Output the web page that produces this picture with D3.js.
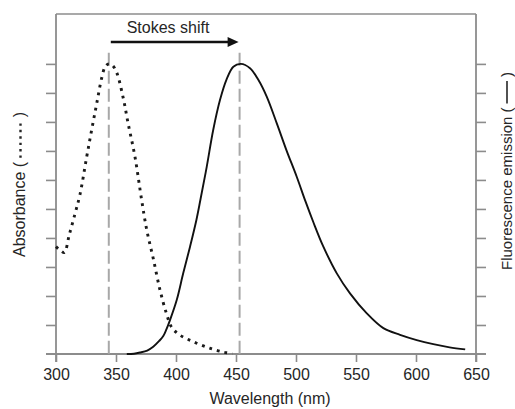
<!DOCTYPE html>
<html>
<head>
<meta charset="utf-8">
<script src="https://cdn.jsdelivr.net/npm/d3@7/dist/d3.min.js"></script>
<style>
  html, body { margin: 0; padding: 0; background: #fff; }
  svg { display: block; }
  text { font-family: "Liberation Sans", Arial, Helvetica, sans-serif; fill: #262626; }
</style>
</head>
<body>
<svg id="chart" width="515" height="409"></svg>
<script>
// ---- data ----
const xTicks = [300, 350, 400, 450, 500, 550, 600, 650];
const yTicks = [1, 2, 3, 4, 5, 6, 7, 8, 9, 10];

// absorbance (dotted): wavelength (nm), relative value
const absWavelength = [300, 304, 307, 311, 316, 320, 325.6, 329.7, 334, 338, 341, 344, 347, 350.6, 356, 360, 365.8, 371.4, 375.6, 381, 386.7, 392, 396.4, 403, 414, 428, 440, 447];
const absValue      = [3.7, 3.56, 3.5, 4.1, 4.86, 5.5, 6.8, 7.72, 8.65, 9.5, 9.9, 10, 9.95, 9.7, 8.83, 7.97, 6.8, 5.3, 4.28, 3.3, 2.2, 1.4, 0.92, 0.66, 0.43, 0.2, 0.06, 0.02];

// fluorescence emission (solid)
const emWavelength = [359, 365, 370, 376, 381, 386, 389.4, 392, 395, 400.6, 406, 411.7, 417, 420.5, 425.6, 431, 436.7, 442, 447.8, 454, 461.7, 468.6, 475.6, 484, 492, 500.6, 508, 514.4, 522.8, 534, 545, 559, 572.8, 586.7, 600.6, 614.4, 628, 641];
const emValue      = [0.0, 0.01, 0.05, 0.12, 0.25, 0.45, 0.62, 0.85, 1.17, 1.86, 2.78, 3.7, 4.62, 5.35, 6.45, 7.72, 8.76, 9.45, 9.9, 10, 9.85, 9.45, 8.87, 7.95, 7.03, 6.11, 5.25, 4.55, 3.7, 2.78, 2.09, 1.4, 0.89, 0.66, 0.48, 0.34, 0.23, 0.16];

const peakAbs = 344;
const peakEm = 453;
const yMax = 11.72;
const peakLineTop = 10.38;

// ---- layout ----
const svg = d3.select("#chart");
const x = d3.scaleLinear().domain([300, 650]).range([56, 476]);
const y = d3.scaleLinear().domain([0, yMax]).range([354, 14]);

const axisColor = "#8c8c8c";
const FS = 16;

// x axis ticks + labels
const xAxis = svg.append("g")
  .attr("transform", `translate(0,${y(0)})`)
  .call(d3.axisBottom(x).tickValues(xTicks).tickSize(8).tickSizeOuter(0).tickPadding(6.5).tickFormat(d3.format("d")));
xAxis.select(".domain").remove();
xAxis.selectAll("line").attr("stroke", axisColor).attr("stroke-width", 1.6);
xAxis.selectAll("text").style("font-size", FS + "px").attr("fill", "#262626");

// y axes ticks (left and right)
const yl = svg.append("g").attr("transform", `translate(${x(300)},0)`)
  .call(d3.axisLeft(y).tickValues(yTicks).tickSize(10).tickFormat(""));
yl.select(".domain").remove();
yl.selectAll("line").attr("stroke", axisColor).attr("stroke-width", 1.6);

const yr = svg.append("g").attr("transform", `translate(${x(650)},0)`)
  .call(d3.axisRight(y).tickValues(yTicks).tickSize(10).tickFormat(""));
yr.select(".domain").remove();
yr.selectAll("line").attr("stroke", axisColor).attr("stroke-width", 1.6);

// frame lines
svg.append("line").attr("x1", x(300) - 10).attr("x2", x(650) + 10).attr("y1", y(0)).attr("y2", y(0))
  .attr("stroke", axisColor).attr("stroke-width", 1.8);
svg.append("line").attr("x1", x(300)).attr("x2", x(650)).attr("y1", y(yMax)).attr("y2", y(yMax))
  .attr("stroke", axisColor).attr("stroke-width", 1.6);
[300, 650].forEach(v => {
  svg.append("line").attr("x1", x(v)).attr("x2", x(v)).attr("y1", y(yMax)).attr("y2", y(0) + 8)
    .attr("stroke", axisColor).attr("stroke-width", 1.8);
});

// dashed peak lines
[peakAbs, peakEm].forEach(v => {
  svg.append("line").attr("x1", x(v)).attr("x2", x(v)).attr("y1", y(peakLineTop)).attr("y2", y(0))
    .attr("stroke", "#a8a8a8").attr("stroke-width", 2).attr("stroke-dasharray", "13,5");
});

// curves
const line = d3.line().x(d => x(d[0])).y(d => y(d[1])).curve(d3.curveCatmullRom.alpha(0.5));
const absData = absWavelength.map((w, i) => [w, absValue[i]]);
const emData = emWavelength.map((w, i) => [w, emValue[i]]);

svg.append("path").datum(absData).attr("d", line)
  .attr("fill", "none").attr("stroke", "#1a1a1a").attr("stroke-width", 2.9)
  .attr("stroke-dasharray", "2.8,5");
svg.append("path").datum(emData).attr("d", line)
  .attr("fill", "none").attr("stroke", "#111").attr("stroke-width", 1.9);

// Stokes shift arrow
const ay = 42;
const ax1 = x(peakAbs) + 2, ax2 = x(peakEm) - 1;
svg.append("line").attr("x1", ax1).attr("x2", ax2 - 9).attr("y1", ay).attr("y2", ay)
  .attr("stroke", "#111").attr("stroke-width", 2.6);
svg.append("path").attr("d", `M${ax2 - 11},${ay - 5}L${ax2},${ay}L${ax2 - 11},${ay + 5}Z`).attr("fill", "#111");
svg.append("text").attr("x", 168).attr("y", 33).attr("text-anchor", "middle")
  .style("font-size", FS + "px").text("Stokes shift");

// x label
svg.append("text").attr("x", 270).attr("y", 404).attr("text-anchor", "middle")
  .style("font-size", FS + "px").text("Wavelength (nm)");

// rotated axis labels with line-style keys
function sideLabel(bx, yBottom, yTop, label, dashed, fs) {
  const g = svg.append("g").attr("transform", `translate(${bx},0) rotate(-90)`);
  const t1 = g.append("text").attr("x", -yBottom).attr("y", 0).attr("text-anchor", "start")
    .style("font-size", fs + "px").text(label + " (");
  const t2 = g.append("text").attr("x", -yTop).attr("y", 0).attr("text-anchor", "end")
    .style("font-size", fs + "px").text(")");
  const l1 = t1.node().getComputedTextLength();
  const l2 = t2.node().getComputedTextLength();
  const s = -yBottom + l1 + 4, e = -yTop - l2 - 4;
  const k = g.append("line").attr("x1", s).attr("x2", e).attr("y1", -4.5).attr("y2", -4.5)
    .attr("stroke", "#262626");
  if (dashed) k.attr("stroke-width", 2.4).attr("stroke-dasharray", "2.4,4");
  else k.attr("stroke-width", 1.6);
}
sideLabel(25, 257, 112, "Absorbance", true, 16);
sideLabel(511.5, 270, 72, "Fluorescence emission", false, 15);
</script>
</body>
</html>
